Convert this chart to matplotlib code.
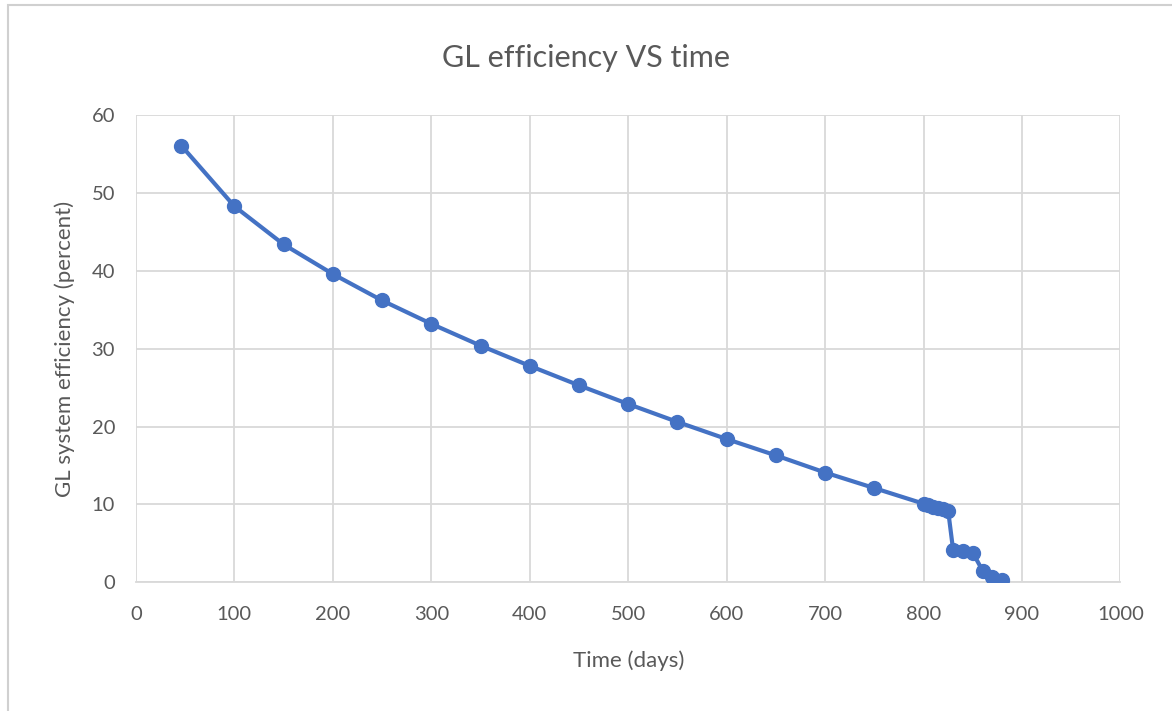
import matplotlib
matplotlib.use("Agg")
import matplotlib.pyplot as plt
from matplotlib.patches import Rectangle

# === DATI ===
days = [46, 100, 150, 200, 250, 300, 350, 400, 450, 500, 550, 600, 650, 700, 750,
        800, 805, 810, 815, 820, 825, 830, 840, 850, 860, 870, 880]
eff = [56.1, 48.3, 43.4, 39.6, 36.2, 33.2, 30.4, 27.8, 25.3, 22.9, 20.6, 18.4, 16.3, 14.1, 12.1,
       10.1, 9.9, 9.7, 9.5, 9.4, 9.2, 4.2, 4.0, 3.8, 1.5, 0.7, 0.3]

x_ticks = list(range(0, 1001, 100))
y_ticks = list(range(0, 61, 10))

txt = "#595959"
blue = "#4472C4"
grid = "#D9D9D9"

plt.rcParams["font.family"] = ["Lato", "DejaVu Sans"]

fig = plt.figure(figsize=(11.72, 7.11), dpi=100)
ax = fig.add_axes([0.116, 0.181, 0.84, 0.657])

ax.plot(days, eff, "-o", color=blue, lw=3, markersize=10, zorder=3)

ax.set_xlim(0, 1000)
ax.set_ylim(0, 60)
ax.set_xticks(x_ticks)
ax.set_yticks(y_ticks)
ax.grid(True, color=grid, lw=1.3)
ax.set_axisbelow(True)
for s in ["top", "right", "left"]:
    ax.spines[s].set_visible(False)
ax.spines["bottom"].set_color(grid)
ax.spines["bottom"].set_linewidth(1.3)
ax.tick_params(length=0, labelsize=14.5, colors=txt)
ax.tick_params(axis="x", pad=17)
ax.tick_params(axis="y", pad=15)

ax.set_xlabel("Time (days)", fontsize=16, color=txt, labelpad=20)
ax.set_ylabel("GL system efficiency (percent)", fontsize=16, color=txt, labelpad=12)
fig.text(0.5, 0.918, "GL efficiency VS time", ha="center", va="center", fontsize=22, color=txt)

# cornice del grafico
fig.patches.append(Rectangle((0.007, -0.01), 1.1, 1.003, transform=fig.transFigure,
                             fill=False, edgecolor="#D0D0D0", lw=1.5))

fig.savefig("out.png", dpi=100)
